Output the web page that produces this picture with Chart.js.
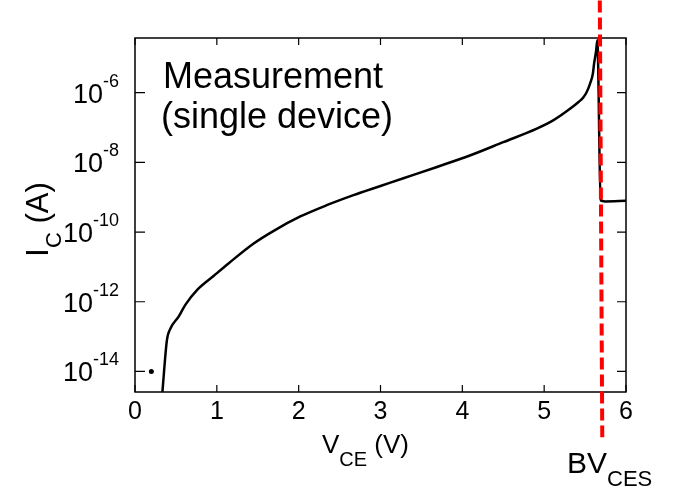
<!DOCTYPE html>
<html>
<head>
<meta charset="utf-8">
<script src="https://cdn.jsdelivr.net/npm/chart.js@4.4.0/dist/chart.umd.min.js"></script>
<style>
  html, body { margin: 0; padding: 0; background: #fff; }
</style>
</head>
<body>
<canvas id="c" width="673" height="489"></canvas>
<script>
// measured I-V curve (V_CE in volts, I_C in amps)
const vce = [0.335, 0.39, 0.433, 0.535, 0.617, 0.76, 0.96, 1.15, 1.45, 1.69, 2.02, 2.35, 2.67, 3.0,
  3.28, 3.69, 4.10, 4.50, 4.91, 5.11, 5.32, 5.42, 5.48, 5.52, 5.56, 5.595, 5.61, 5.635, 5.65,
  5.69, 5.745, 6.0];
const ic = [2.6e-15, 7.9e-14, 1.7e-13, 3.8e-13, 8.3e-13, 2.2e-12, 5.5e-12, 1.3e-11, 4.7e-11, 1.07e-10,
  2.8e-10, 6.0e-10, 1.15e-9, 2.1e-9, 3.5e-9, 7.4e-9, 1.6e-8, 3.8e-8, 9.3e-8, 1.6e-7, 3.5e-7, 5.4e-7,
  7.4e-7, 1.05e-6, 1.8e-6, 3.5e-6, 6.8e-6, 1.6e-5, 3.2e-5, 8.1e-10, 7.6e-10, 7.9e-10];
// lone point near the noise floor
const dotV = [0.2];
const dotI = [1e-14];
// breakdown marker BV_CES
const bvV = [5.68, 5.71];
const bvI = [4.4e-4, 1.3e-16];

const xTicks = [0, 1, 2, 3, 4, 5, 6];
const yTickExp = [-6, -8, -10, -12, -14];

const FONT = '"Liberation Sans", Arial, sans-serif';

function put(ctx, s, x, y, size) {
  ctx.font = size + 'px ' + FONT;
  ctx.fillText(s, x, y);
  return ctx.measureText(s).width;
}
function wid(ctx, s, size) {
  ctx.font = size + 'px ' + FONT;
  return ctx.measureText(s).width;
}

const frame = {
  id: 'frame',
  beforeDatasetsDraw(chart) {
    const { ctx, chartArea: a, scales: { x, y } } = chart;
    ctx.save();
    ctx.strokeStyle = '#000';
    ctx.lineWidth = 1.5;
    ctx.strokeRect(a.left, a.top, a.right - a.left, a.bottom - a.top);
    ctx.lineWidth = 1.2;
    ctx.beginPath();
    xTicks.forEach(v => {
      const px = x.getPixelForValue(v);
      ctx.moveTo(px, a.bottom); ctx.lineTo(px, a.bottom - 7);
      ctx.moveTo(px, a.top); ctx.lineTo(px, a.top + 7);
    });
    yTickExp.forEach(e => {
      const py = y.getPixelForValue(Math.pow(10, e));
      ctx.moveTo(a.left, py); ctx.lineTo(a.left + 10, py);
      ctx.moveTo(a.right, py); ctx.lineTo(a.right - 9, py);
    });
    ctx.stroke();

    // y tick labels 10^n
    ctx.fillStyle = '#000';
    ctx.textBaseline = 'alphabetic';
    ctx.textAlign = 'left';
    yTickExp.forEach(e => {
      const py = y.getPixelForValue(Math.pow(10, e));
      const sup = '-' + Math.abs(e);
      const w = wid(ctx, '10', 27) + wid(ctx, sup, 18);
      const x0 = a.left - 16 - w;
      const w10 = put(ctx, '10', x0, py + 10, 27);
      put(ctx, sup, x0 + w10, py - 6, 18);
    });

    // x axis title
    let cx = 322;
    cx += put(ctx, 'V', cx, 453, 26);
    cx += put(ctx, 'CE', cx, 466, 20);
    put(ctx, ' (V)', cx, 453, 26);

    // y axis title (rotated)
    ctx.save();
    ctx.translate(48, 257);
    ctx.rotate(-Math.PI / 2);
    let cy = 0;
    cy += put(ctx, 'I', cy, 0, 32);
    cy += put(ctx, 'C', cy, 13, 22);
    put(ctx, ' (A)', cy, 0, 31);
    ctx.restore();

    // annotation
    put(ctx, 'Measurement', 163, 88, 36);
    put(ctx, '(single device)', 161, 128, 36);

    // BV_CES label
    let bx = 567;
    bx += put(ctx, 'BV', bx, 473, 30);
    put(ctx, 'CES', bx, 486, 22);
    ctx.restore();
  }
};

new Chart(document.getElementById('c'), {
  type: 'scatter',
  data: {
    datasets: [
      {
        label: 'BV_CES',
        data: bvV.map((v, i) => ({ x: v, y: bvI[i] })),
        showLine: true,
        borderColor: 'rgb(255,0,0)',
        borderWidth: 4,
        borderDash: [12, 5],
        pointRadius: 0,
        clip: false,
        order: 0
      },
      {
        label: 'Measurement',
        data: vce.map((v, i) => ({ x: v, y: ic[i] })),
        showLine: true,
        borderColor: '#000',
        borderWidth: 2.5,
        pointRadius: 0,
        cubicInterpolationMode: 'monotone',
        order: 1
      },
      {
        label: 'dot',
        data: dotV.map((v, i) => ({ x: v, y: dotI[i] })),
        showLine: false,
        pointRadius: 2.5,
        pointBackgroundColor: '#000',
        pointBorderWidth: 0,
        order: 2
      }
    ]
  },
  options: {
    responsive: false,
    animation: false,
    layout: { padding: { top: 38, right: 47, left: 0, bottom: 0 } },
    plugins: {
      legend: { display: false },
      tooltip: { enabled: false }
    },
    scales: {
      x: {
        type: 'linear',
        min: 0,
        max: 6,
        afterFit: s => { s.height = 97; },
        afterBuildTicks: s => { s.ticks = xTicks.map(v => ({ value: v })); },
        grid: { display: false, drawTicks: false },
        border: { display: false },
        ticks: {
          color: '#000',
          padding: 5,
          maxRotation: 0,
          font: { family: FONT, size: 25 }
        }
      },
      y: {
        type: 'logarithmic',
        min: Math.pow(10, -14.59),
        max: Math.pow(10, -4.43),
        afterFit: s => { s.width = 135; },
        afterBuildTicks: s => { s.ticks = yTickExp.map(e => ({ value: Math.pow(10, e) })); },
        grid: { display: false, drawTicks: false },
        border: { display: false },
        ticks: { display: false }
      }
    }
  },
  plugins: [frame]
});
</script>
</body>
</html>
